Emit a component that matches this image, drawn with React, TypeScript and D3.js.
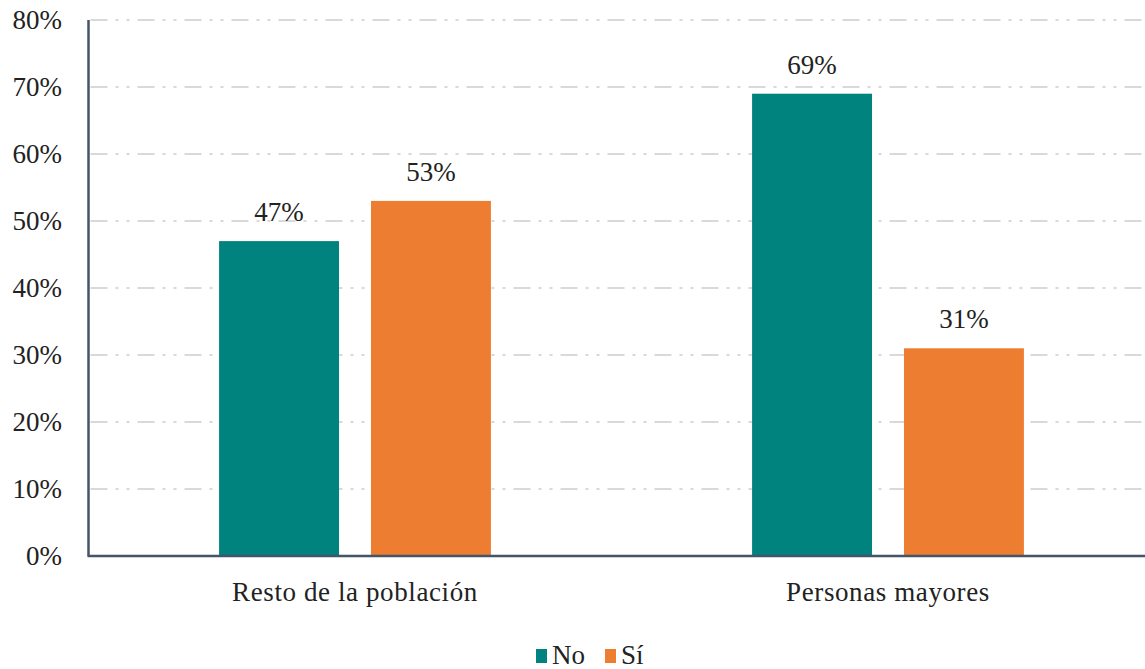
import React from "react";
import * as d3 from "d3";

const categories = ["Resto de la población", "Personas mayores"];
const series = ["No", "Sí"];
const noValues = [0.47, 0.69];
const siValues = [0.53, 0.31];
const yTicks = [0, 0.1, 0.2, 0.3, 0.4, 0.5, 0.6, 0.7, 0.8];

const colors = ["#00827f", "#ed7d31"];
const ink = "#222";

const App = () => {
  const width = 1145;
  const height = 669;
  const left = 88.5;
  const top = 20;
  const bottom = 556;

  const x0 = d3
    .scaleBand()
    .domain(categories)
    .range([left, left + 1066])
    .paddingInner(0.49)
    .paddingOuter(0.245);

  const x1 = d3
    .scaleBand()
    .domain(series)
    .range([0, x0.bandwidth()])
    .paddingInner(0.2105)
    .paddingOuter(0);

  const y = d3.scaleLinear().domain([0, 0.8]).range([bottom, top]);
  const pct = d3.format(".0%");

  const rows = categories.map((c, i) => ({
    cat: c,
    values: [noValues[i], siValues[i]],
  }));

  return (
    <svg width={width} height={height} style={{ position: "absolute", left: 0, top: 0 }}>
      {/* grid */}
      {yTicks
        .filter((t) => t > 0)
        .map((t) => (
          <line
            key={t}
            x1={left + 2}
            x2={width}
            y1={y(t)}
            y2={y(t)}
            stroke="#d9d9d9"
            strokeWidth={2}
            strokeDasharray="17,8,3,8,3,8"
          />
        ))}
      <g style={{ fontFamily: "Liberation Serif" }} fill={ink} fontSize={27}>
        {/* y tick labels */}
        {yTicks.map((t) => (
          <text key={t} x={62} y={y(t)} dy="0.34em" textAnchor="end">
            {pct(t)}
          </text>
        ))}
        {/* bars */}
        {rows.map((r) => (
          <g key={r.cat} transform={`translate(${x0(r.cat)},0)`}>
            {r.values.map((v, j) => (
              <g key={series[j]}>
                <rect
                  x={x1(series[j])}
                  y={y(v)}
                  width={x1.bandwidth()}
                  height={bottom - y(v)}
                  fill={colors[j]}
                />
                <text
                  x={(x1(series[j]) as number) + x1.bandwidth() / 2}
                  y={y(v) - 20}
                  textAnchor="middle"
                >
                  {pct(v)}
                </text>
              </g>
            ))}
            <text x={x0.bandwidth() / 2} y={601} textAnchor="middle" letterSpacing={0.6}>
              {r.cat}
            </text>
          </g>
        ))}
        {/* legend */}
        {series.map((s, i) => (
          <g key={s} transform={`translate(${536 + i * 69},0)`}>
            <rect x={0} y={649} width={11} height={14} fill={colors[i]} />
            <text x={16} y={664}>
              {s}
            </text>
          </g>
        ))}
      </g>
      {/* axes */}
      <line x1={left} x2={left} y1={top} y2={bottom} stroke="#44546a" strokeWidth={2.5} />
      <line x1={left - 1} x2={width} y1={bottom} y2={bottom} stroke="#44546a" strokeWidth={2.5} />
    </svg>
  );
};

export default App;
